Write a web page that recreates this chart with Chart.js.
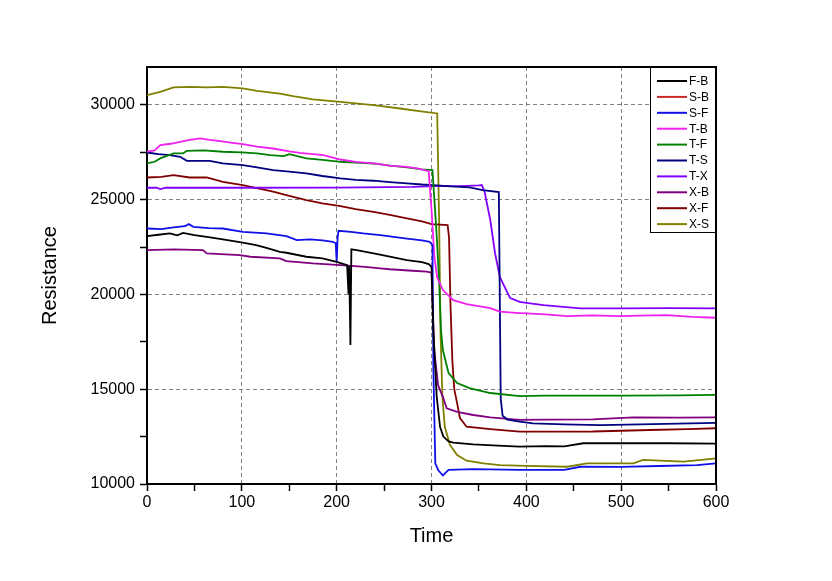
<!DOCTYPE html>
<html>
<head>
<meta charset="utf-8">
<title>Resistance vs Time</title>
<script src="https://cdn.jsdelivr.net/npm/chart.js@4.4.1/dist/chart.umd.min.js"></script>
<style>
  html, body { margin: 0; padding: 0; background: #fff; }
  #wrap { width: 832px; height: 581px; }
</style>
</head>
<body>
<div id="wrap"><canvas id="chart" width="832" height="581"></canvas></div>
<script>
// Series as [time, resistance] pairs.
const fbData = [[0,23080],[12,23150],[24,23220],[32,23120],[38,23250],[50,23130],[63,23040],[80,22910],[101,22730],
  [115,22600],[126,22460],[140,22250],[147,22200],[168,21990],[185,21900],[200,21720],[211,21550],[212.5,20000],
  [213.2,21500],[214.5,17330],[215.5,22380],[221,22340],[239,22170],[256,21990],[274,21810],[290,21700],[297,21600],
  [300,21450],[302,18000],[305.5,14600],[309,13020],[312.5,12500],[318,12250],[323,12180],[344,12090],[370,12020],
  [393,11970],[420,12000],[440,11980],[460,12150],[500,12150],[550,12150],[600,12130]];
const sbData = [];
const sfData = [[0,23480],[15,23450],[28,23540],[40,23600],[44,23710],[49,23570],[65,23500],[80,23480],[101,23300],
  [126,23220],[147,23080],[158,22870],[172,22910],[185,22850],[196,22780],[199,22700],[200,21720],[201,23000],
  [202,23360],[215,23300],[228,23220],[246,23130],[256,23060],[274,22950],[290,22850],[298,22780],[301,22600],
  [302,16000],[304,11090],[307,10740],[312,10450],[318,10740],[344,10780],[393,10740],[440,10740],[457,10910],
  [500,10900],[540,10950],[580,11000],[600,11090]];
const tbData = [[0,27530],[8,27600],[14,27880],[25,27950],[35,28050],[45,28150],[56,28230],[66,28150],[77,28090],
  [90,28000],[101,27930],[116,27800],[133,27700],[150,27550],[161,27470],[175,27400],[186,27350],[204,27120],
  [220,27000],[239,26910],[256,26800],[274,26730],[285,26650],[297,26500],[300,24500],[303,22000],[306,20900],
  [312,20230],[323,19700],[337,19490],[362,19280],[372,19090],[393,19020],[400,19000],[420,18950],[443,18860],
  [470,18900],[499,18860],[520,18880],[548,18910],[575,18820],[600,18770]];
const tfData = [[0,26910],[8,27000],[14,27180],[28,27440],[38,27450],[42,27580],[60,27600],[80,27530],[100,27500],
  [116,27440],[130,27350],[144,27300],[150,27400],[168,27180],[185,27100],[204,27000],[220,26950],[239,26910],
  [256,26800],[274,26700],[290,26600],[301,26560],[305,23500],[308,20760],[310,18120],[312,17070],[318,15850],
  [327,15330],[340,15060],[362,14800],[393,14640],[420,14660],[500,14660],[560,14680],[600,14700]];
const tsData = [[0,27490],[12,27400],[24,27350],[35,27260],[42,27050],[66,27050],[80,26910],[101,26820],[116,26700],
  [133,26560],[150,26480],[168,26390],[185,26250],[204,26120],[220,26050],[239,26000],[256,25930],[274,25860],
  [290,25800],[302,25770],[320,25700],[340,25650],[354,25500],[371,25400],[373,14500],[375,13600],[380,13400],
  [393,13290],[407,13200],[440,13150],[478,13110],[520,13150],[560,13180],[600,13230]];
const txData = [[0,25630],[10,25630],[14,25560],[20,25630],[100,25630],[200,25640],[280,25680],[303,25720],
  [330,25720],[350,25750],[353,25770],[356,25420],[362,23920],[367,22180],[372,20930],[379,20200],[383,19810],
  [393,19610],[400,19560],[418,19440],[457,19270],[500,19270],[550,19280],[600,19270]];
const xbData = [[0,22340],[28,22380],[59,22340],[63,22170],[98,22080],[109,21990],[140,21900],[147,21760],
  [175,21640],[204,21550],[230,21450],[246,21380],[256,21330],[280,21250],[295,21200],[300,21150],[303,17000],
  [307,15200],[312,14600],[316,13990],[327,13810],[344,13640],[362,13520],[393,13380],[420,13400],[470,13410],
  [513,13520],[560,13500],[600,13520]];
const xfData = [[0,26170],[15,26200],[28,26300],[45,26170],[63,26170],[80,25940],[101,25770],[133,25420],
  [150,25200],[168,24980],[185,24800],[204,24660],[220,24500],[239,24360],[256,24200],[274,24010],[290,23850],
  [300,23710],[317,23660],[318.5,23000],[320,19500],[322,16500],[324,15000],[327,14270],[330,13480],[337,13020],
  [362,12900],[393,12760],[420,12760],[470,12770],[530,12850],[570,12900],[600,12940]];
const xsData = [[0,30520],[14,30690],[28,30920],[45,30950],[63,30920],[80,30950],[101,30870],[116,30740],
  [140,30600],[154,30460],[175,30290],[204,30160],[220,30080],[239,29990],[267,29810],[291,29640],[306,29550],
  [308,24000],[309.5,18000],[311.5,14600],[314,13020],[319.5,12060],[327,11530],[337,11230],[355,11090],
  [372,11000],[400,10960],[443,10910],[464,11090],[513,11090],[523,11270],[566,11180],[600,11350]];

const seriesLabels = ['F-B', 'S-B', 'S-F', 'T-B', 'T-F', 'T-S', 'T-X', 'X-B', 'X-F', 'X-S'];
const seriesData = [fbData, sbData, sfData, tbData, tfData, tsData, txData, xbData, xfData, xsData];
const seriesColors = ['#000000', '#d02828', '#1010e8', '#f020f0', '#008000', '#000080', '#8000ff', '#800080', '#800000', '#808000'];

const xMajor = [0, 100, 200, 300, 400, 500, 600];
const xMinor = [50, 150, 250, 350, 450, 550];
const yMajor = [10000, 15000, 20000, 25000, 30000];
const yMinor = [12500, 17500, 22500, 27500];

const FONT = 'Liberation Sans, Arial, sans-serif';

// legend drawn as a framed box in the upper right corner of the plot
const boxLegend = {
  id: 'boxLegend',
  afterDatasetsDraw(chart) {
    const { ctx, chartArea } = chart;
    const w = 66, h = 165;
    const x0 = chartArea.right - w, y0 = chartArea.top;
    ctx.save();
    ctx.fillStyle = '#fff';
    ctx.fillRect(x0, y0, w, h);
    ctx.strokeStyle = '#000';
    ctx.lineWidth = 1;
    ctx.strokeRect(x0 + 0.5, y0 + 0.5, w, h);
    ctx.font = '12px ' + FONT;
    ctx.textBaseline = 'middle';
    ctx.fillStyle = '#000';
    chart.data.datasets.forEach((ds, i) => {
      const y = y0 + 14 + i * 15.9;
      ctx.strokeStyle = ds.borderColor;
      ctx.lineWidth = 2;
      ctx.beginPath();
      ctx.moveTo(x0 + 7, y);
      ctx.lineTo(x0 + 37, y);
      ctx.stroke();
      ctx.fillText(ds.label, x0 + 39, y + 0.5);
    });
    ctx.restore();
  },
};

// top and right edges of the plot frame
const frame = {
  id: 'frame',
  afterDraw(chart) {
    const { ctx, chartArea: a } = chart;
    ctx.save();
    ctx.strokeStyle = '#000';
    ctx.lineWidth = 2;
    ctx.beginPath();
    ctx.moveTo(a.left, a.top);
    ctx.lineTo(a.right, a.top);
    ctx.lineTo(a.right, a.bottom);
    ctx.stroke();
    ctx.restore();
  },
};

new Chart(document.getElementById('chart'), {
  type: 'line',
  data: {
    datasets: seriesLabels.map((label, i) => ({
      label,
      data: seriesData[i],
      borderColor: seriesColors[i],
      backgroundColor: seriesColors[i],
      borderWidth: 1.8,
      pointRadius: 0,
      tension: 0,
      fill: false,
    })),
  },
  options: {
    responsive: false,
    animation: false,
    layout: { padding: { top: 67, right: 116, left: 0, bottom: 0 } },
    plugins: { legend: { display: false }, tooltip: { enabled: false } },
    scales: {
      x: {
        type: 'linear',
        min: 0,
        max: 600,
        afterBuildTicks: (s) => { s.ticks = [...xMajor, ...xMinor].sort((a, b) => a - b).map((v) => ({ value: v })); },
        afterFit: (s) => { s.height = 97; },
        ticks: {
          color: '#000',
          padding: 2,
          maxRotation: 0,
          autoSkip: false,
          font: { family: FONT, size: 16 },
          callback: (v) => (xMajor.includes(v) ? String(v) : ''),
        },
        grid: {
          color: (c) => (c.tick && xMajor.includes(c.tick.value) ? '#808080' : 'rgba(0,0,0,0)'),
          lineWidth: 1,
          tickColor: '#000',
          tickWidth: 1.5,
          tickLength: 7,
        },
        border: { color: '#000', width: 2, dash: [4, 3] },
        title: { display: true, text: 'Time', color: '#000', font: { family: FONT, size: 20 }, padding: { top: 0, bottom: 33 } },
      },
      y: {
        type: 'linear',
        min: 10000,
        max: 32000,
        afterBuildTicks: (s) => { s.ticks = [...yMajor, ...yMinor].sort((a, b) => a - b).map((v) => ({ value: v })); },
        afterFit: (s) => { s.width = 147; },
        ticks: {
          color: '#000',
          padding: 5,
          autoSkip: false,
          font: { family: FONT, size: 16 },
          callback: (v) => (yMajor.includes(v) ? String(v) : ''),
        },
        grid: {
          color: (c) => (c.tick && yMajor.includes(c.tick.value) ? '#808080' : 'rgba(0,0,0,0)'),
          lineWidth: 1,
          tickColor: '#000',
          tickWidth: 1.5,
          tickLength: 7,
        },
        border: { color: '#000', width: 2, dash: [4, 3] },
        title: { display: true, text: 'Resistance', color: '#000', font: { family: FONT, size: 20 }, padding: { top: 38, bottom: 0 } },
      },
    },
  },
  plugins: [boxLegend, frame],
});
</script>
</body>
</html>
